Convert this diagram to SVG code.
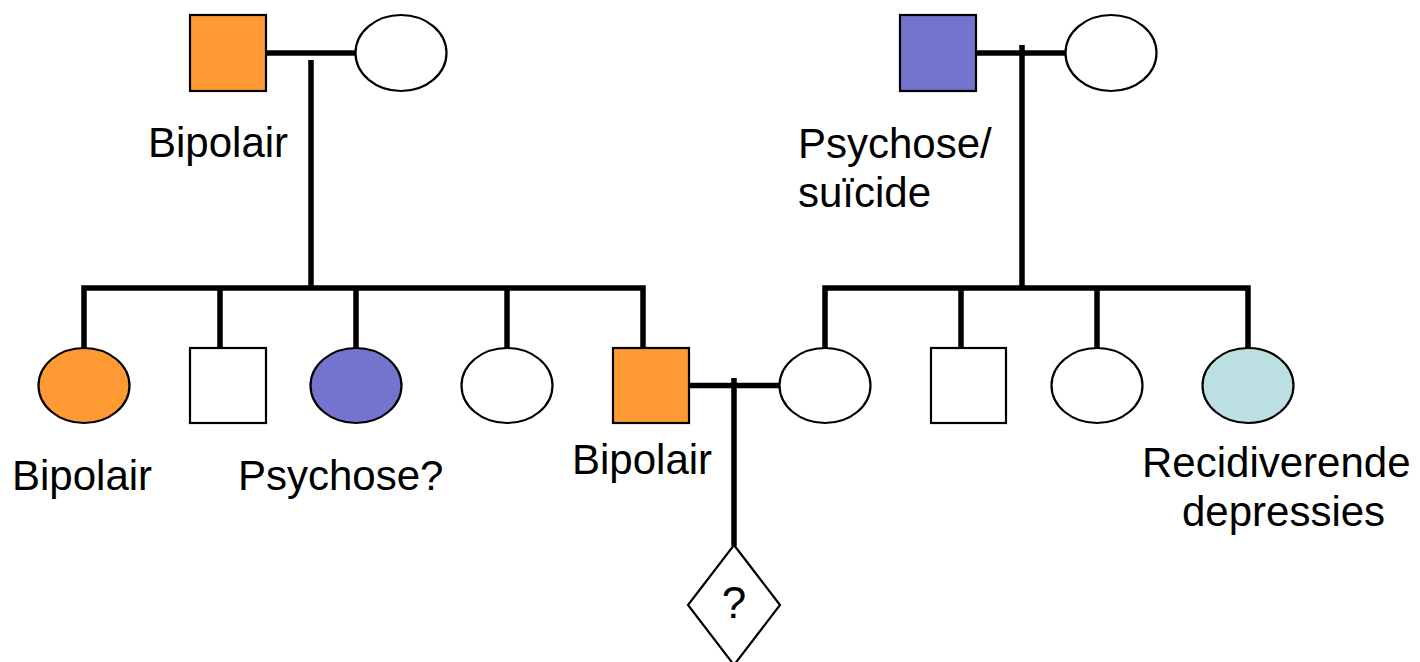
<svg xmlns="http://www.w3.org/2000/svg" width="1420" height="662" viewBox="0 0 1420 662">
<style>
.shape{stroke:#000;stroke-width:2.2}
.line{stroke:#000;stroke-width:5.5;fill:none;stroke-linejoin:miter;stroke-linecap:butt}
text{font-family:"Liberation Sans",Arial,sans-serif;font-size:42px;fill:#000}
.orange{fill:#FF9933}
.purple{fill:#7474CF}
.blue{fill:#BCDFE1}
.white{fill:#fff}
</style>
<rect width="1420" height="662" fill="#fff"/>
<g id="connectors">
<path class="line" d="M266,53 H356"/>
<path class="line" d="M311,60 V288"/>
<path class="line" d="M976,53 H1066"/>
<path class="line" d="M1022,45 V288"/>
<path class="line" d="M84,348 V288 H643 V348"/>
<path class="line" d="M220,288 V348"/>
<path class="line" d="M356,288 V348"/>
<path class="line" d="M507,288 V348"/>
<path class="line" d="M825,348 V288 H1248 V348"/>
<path class="line" d="M961,288 V348"/>
<path class="line" d="M1097,288 V348"/>
<path class="line" d="M689,385.5 H780"/>
<path class="line" d="M734,378 V546"/>
</g>
<g id="grandfather1"><rect class="shape orange" x="190" y="15" width="76" height="76"/><text x="148" y="157">Bipolair</text></g>
<g id="grandmother1"><ellipse class="shape white" cx="401" cy="53" rx="45.5" ry="38"/></g>
<g id="grandfather2"><rect class="shape purple" x="900" y="15" width="76" height="76"/><text x="798" y="158">Psychose/</text><text x="798" y="207">suïcide</text></g>
<g id="grandmother2"><ellipse class="shape white" cx="1111" cy="53" rx="45.5" ry="38"/></g>
<g id="aunt1"><ellipse class="shape orange" cx="84" cy="385.5" rx="45.5" ry="37.5"/><text x="12" y="490">Bipolair</text></g>
<g id="uncle1"><rect class="shape white" x="190" y="348" width="76" height="75"/></g>
<g id="aunt2"><ellipse class="shape purple" cx="356" cy="385.5" rx="45.5" ry="37.5"/><text x="238" y="490">Psychose?</text></g>
<g id="aunt3"><ellipse class="shape white" cx="507" cy="385.5" rx="45.5" ry="37.5"/></g>
<g id="father"><rect class="shape orange" x="613" y="348" width="76" height="75"/><text x="572" y="474">Bipolair</text></g>
<g id="mother"><ellipse class="shape white" cx="825" cy="385.5" rx="45.5" ry="37.5"/></g>
<g id="uncle2"><rect class="shape white" x="931" y="348" width="75" height="75"/></g>
<g id="aunt4"><ellipse class="shape white" cx="1097" cy="385.5" rx="45.5" ry="37.5"/></g>
<g id="aunt5"><ellipse class="shape blue" cx="1248" cy="385.5" rx="45.5" ry="37.5"/><text x="1142" y="477">Recidiverende</text><text x="1182" y="526">depressies</text></g>
<g id="child"><polygon class="shape white" points="734,545 780,605 734,665 688,605"/><text x="734" y="618" text-anchor="middle" style="font-size:44px">?</text></g>
</svg>
